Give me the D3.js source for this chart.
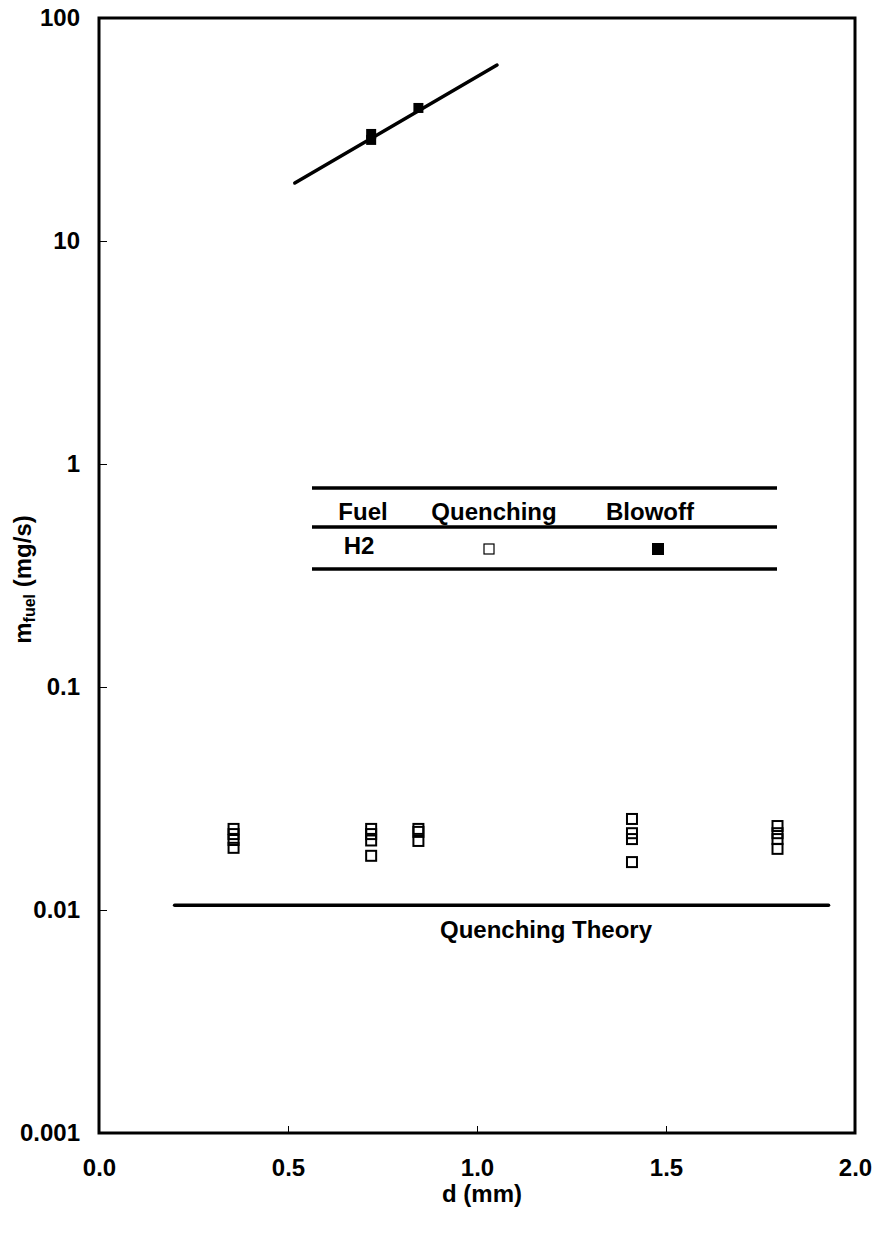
<!DOCTYPE html>
<html>
<head>
<meta charset="utf-8">
<script src="https://cdn.jsdelivr.net/npm/d3@7"></script>
<style>
  body { margin: 0; background: #fff; }
  text { font-family: "Liberation Sans", Arial, sans-serif; font-weight: bold; fill: #000; }
</style>
</head>
<body>
<svg width="887" height="1233"></svg>
<script>
// tick values
const xTicks = [0.0, 0.5, 1.0, 1.5, 2.0];
const yTicks = [0.001, 0.01, 0.1, 1, 10, 100];
const yTickLabels = ["0.001", "0.01", "0.1", "1", "10", "100"];

// quenching (open squares): diameter d (mm) and fuel flow (mg/s)
const quenchD = [0.356, 0.356, 0.356, 0.356,
                 0.72, 0.72, 0.72, 0.72,
                 0.845, 0.845, 0.845,
                 1.41, 1.41, 1.41, 1.41,
                 1.795, 1.795, 1.795, 1.795];
const quenchM = [0.0231, 0.0219, 0.0206, 0.0190,
                 0.0231, 0.0219, 0.0205, 0.0175,
                 0.0231, 0.0224, 0.0204,
                 0.0256, 0.0221, 0.0208, 0.0164,
                 0.0238, 0.0221, 0.0208, 0.0188];

// blowoff (filled squares)
const blowD = [0.72, 0.72, 0.845];
const blowM = [30.2, 28.4, 39.5];

// blowoff fit line end points
const fitD = [0.518, 1.053];
const fitM = [18.2, 61.5];

// quenching theory
const theoryD = [0.2, 1.93];
const theoryM = [0.0105, 0.0105];

const svg = d3.select("svg"),
      width = +svg.attr("width"),
      height = +svg.attr("height"),
      margin = { top: 18, right: 32, bottom: 100, left: 99 };

const x = d3.scaleLinear()
  .domain([0, 2])
  .range([margin.left, width - margin.right]);

const y = d3.scaleLog()
  .domain([0.001, 100])
  .range([height - margin.bottom, margin.top]);

// Axes (inward ticks)
const xAxis = svg.append("g")
  .attr("transform", `translate(0,${height - margin.bottom})`)
  .call(d3.axisBottom(x).tickValues(xTicks).tickFormat(d3.format(".1f"))
    .tickSize(-7).tickPadding(26));

const yAxis = svg.append("g")
  .attr("transform", `translate(${margin.left},0)`)
  .call(d3.axisLeft(y).tickValues(yTicks).tickFormat((d, i) => yTickLabels[i])
    .tickSize(-8).tickPadding(19));

[xAxis, yAxis].forEach(a => {
  a.select(".domain").remove();
  a.selectAll("line").attr("stroke", "#000").attr("stroke-width", 1);
  a.selectAll("text").attr("font-size", "24px").attr("font-family", "Liberation Sans, Arial, sans-serif")
    .attr("font-weight", "bold");
});

// Plot frame
svg.append("rect")
  .attr("x", x(0))
  .attr("y", y(100))
  .attr("width", x(2) - x(0))
  .attr("height", y(0.001) - y(100))
  .attr("fill", "none")
  .attr("stroke", "#000")
  .attr("stroke-width", 3);

// Axis labels
svg.append("text")
  .attr("x", (x(0) + x(2)) / 2 + 5)
  .attr("y", 1202)
  .attr("text-anchor", "middle")
  .attr("font-size", "24px")
  .text("d (mm)");

const yLabel = svg.append("text")
  .attr("transform", `translate(31,${(y(0.001) + y(100)) / 2 + 4}) rotate(-90)`)
  .attr("text-anchor", "middle")
  .attr("font-size", "24px");
yLabel.append("tspan").text("m");
yLabel.append("tspan").attr("font-size", "16px").attr("dy", 4).text("fuel");
yLabel.append("tspan").attr("dy", -4).text(" (mg/s)");

// Quenching theory line
const line = d3.line().x(d => x(d[0])).y(d => y(d[1]));

svg.append("path")
  .attr("d", line(d3.zip(theoryD, theoryM)))
  .attr("fill", "none")
  .attr("stroke", "#000")
  .attr("stroke-width", 3.5)
  .attr("stroke-linecap", "round");

svg.append("text")
  .attr("x", 546)
  .attr("y", y(theoryM[0]) + 33)
  .attr("text-anchor", "middle")
  .attr("font-size", "24px")
  .text("Quenching Theory");

// Blowoff fit line
svg.append("path")
  .attr("d", line(d3.zip(fitD, fitM)))
  .attr("fill", "none")
  .attr("stroke", "#000")
  .attr("stroke-width", 3.5)
  .attr("stroke-linecap", "round");

// Quenching points
const sq = 10;
svg.append("g")
  .selectAll("rect")
  .data(d3.zip(quenchD, quenchM))
  .join("rect")
  .attr("x", d => x(d[0]) - sq / 2)
  .attr("y", d => y(d[1]) - sq / 2)
  .attr("width", sq)
  .attr("height", sq)
  .attr("fill", "none")
  .attr("stroke", "#000")
  .attr("stroke-width", 2);

// Blowoff points
svg.append("g")
  .selectAll("rect")
  .data(d3.zip(blowD, blowM))
  .join("rect")
  .attr("x", d => x(d[0]) - 5)
  .attr("y", d => y(d[1]) - 5)
  .attr("width", 10)
  .attr("height", 10)
  .attr("fill", "#000");

// Legend table
const leg = svg.append("g");
[488, 527, 569].forEach(ly => {
  leg.append("line")
    .attr("x1", 312).attr("x2", 777)
    .attr("y1", ly).attr("y2", ly)
    .attr("stroke", "#000").attr("stroke-width", 3.5);
});
[["Fuel", 363], ["Quenching", 494], ["Blowoff", 650]].forEach(([t, cx]) => {
  leg.append("text")
    .attr("x", cx).attr("y", 520)
    .attr("text-anchor", "middle")
    .attr("font-size", "24px")
    .text(t);
});
leg.append("text")
  .attr("x", 359).attr("y", 554)
  .attr("text-anchor", "middle")
  .attr("font-size", "24px")
  .text("H2");
leg.append("rect")
  .attr("x", 484).attr("y", 544).attr("width", 10).attr("height", 10)
  .attr("fill", "none").attr("stroke", "#000").attr("stroke-width", 1.2);
leg.append("rect")
  .attr("x", 652).attr("y", 543).attr("width", 12).attr("height", 12)
  .attr("fill", "#000");
</script>
</body>
</html>
